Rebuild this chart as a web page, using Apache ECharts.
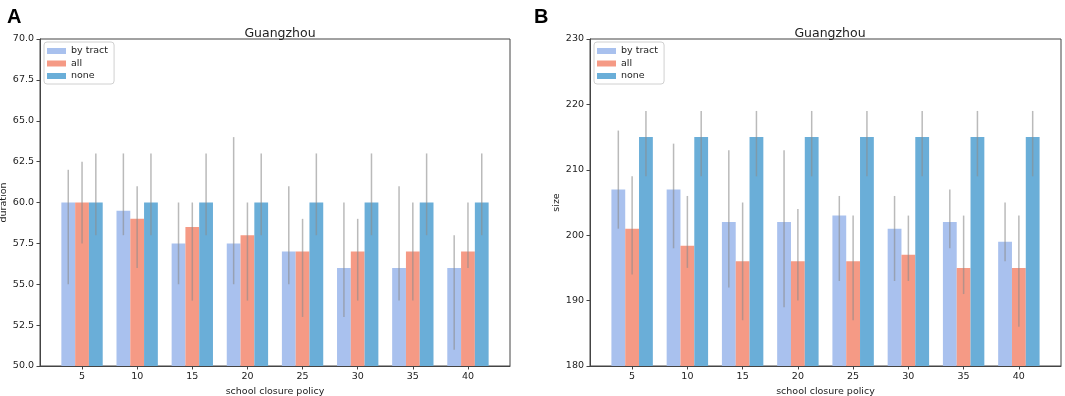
<!DOCTYPE html>
<html>
<head>
<meta charset="utf-8">
<title>Guangzhou</title>
<script src="https://cdn.jsdelivr.net/npm/echarts@6/dist/echarts.min.js"></script>
<style>
  html, body { margin: 0; padding: 0; background: #fff; }
  #chart { width: 1065px; height: 396px; }
</style>
</head>
<body>
<div id="chart"></div>
<script>
// school closure policy (x categories)
const categories = ['5', '10', '15', '20', '25', '30', '35', '40']
const seriesNames = ['by tract', 'all', 'none']
const colors = ['#a9c1ee', '#f59a85', '#6aaed8']

// panel A: duration
const durTicks = [50, 70, 2.5]
const durByTract = [60, 59.5, 57.5, 57.5, 57, 56, 56, 56]
const durAll = [60, 59, 58.5, 58, 57, 57, 57, 57]
const durNone = [60, 60, 60, 60, 60, 60, 60, 60]
const durByTractErr = [[55, 62], [58, 63], [55, 60], [55, 64], [55, 61], [53, 60], [54, 61], [51, 58]]
const durAllErr = [[57.5, 62.5], [56, 61], [54, 60], [54, 60], [53, 59], [54, 59], [54, 60], [56, 60]]
const durNoneErr = [[58, 63], [58, 63], [58, 63], [58, 63], [58, 63], [58, 63], [58, 63], [58, 63]]

// panel B: size
const sizeTicks = [180, 230, 10]
const sizeByTract = [207, 207, 202, 202, 203, 201, 202, 199]
const sizeAll = [201, 198.4, 196, 196, 196, 197, 195, 195]
const sizeNone = [215, 215, 215, 215, 215, 215, 215, 215]
const sizeByTractErr = [[201, 216], [198, 214], [192, 213], [189, 213], [193, 206], [193, 206], [198, 207], [196, 205]]
const sizeAllErr = [[194, 209], [195, 206], [187, 205], [190, 204], [187, 203], [193, 203], [191, 203], [186, 203]]
const sizeNoneErr = [[209, 219], [209, 219], [209, 219], [209, 219], [209, 219], [209, 219], [209, 219], [209, 219]]

const font = 'DejaVu Sans'
const axisColor = '#444'

function xAxisFor (gridIndex) {
    return {
        type: 'value',
        gridIndex: gridIndex,
        min: -0.7625,
        max: 7.7625,
        name: 'school closure policy',
        nameLocation: 'middle',
        nameGap: 19,
        nameTextStyle: { fontFamily: font, fontSize: 9.5, color: '#222' },
        axisLine: { onZero: false, lineStyle: { color: axisColor } },
        axisTick: { length: 3.5, customValues: categories.map((c, i) => i), lineStyle: { color: axisColor } },
        axisLabel: {
            customValues: categories.map((c, i) => i),
            formatter: v => categories[Math.round(v)],
            fontFamily: font,
            fontSize: 9.5,
            color: '#222',
            margin: 6
        },
        splitLine: { show: false }
    }
}

function yAxisFor (gridIndex, ticks, name, gap, digits) {
    return {
        type: 'value',
        gridIndex: gridIndex,
        min: ticks[0],
        max: ticks[1],
        interval: ticks[2],
        name: name,
        nameLocation: 'middle',
        nameGap: gap,
        nameTextStyle: { fontFamily: font, fontSize: 9.5, color: '#222' },
        axisLine: { show: true, onZero: false, lineStyle: { color: axisColor } },
        axisTick: { show: true, length: 3.5, lineStyle: { color: axisColor } },
        axisLabel: {
            formatter: v => v.toFixed(digits),
            fontFamily: font,
            fontSize: 9.5,
            color: '#222',
            margin: 6
        },
        splitLine: { show: false }
    }
}

function barSeries (gridIndex, values) {
    return values.map((vals, k) => ({
        type: 'bar',
        name: seriesNames[k],
        xAxisIndex: gridIndex,
        yAxisIndex: gridIndex,
        barWidth: '25%',
        barGap: '0%',
        itemStyle: { color: colors[k] },
        data: vals.map((v, i) => [i, v])
    }))
}

function errSeries (gridIndex, errs) {
    const data = []
    errs.forEach((list, k) => {
        list.forEach((e, i) => {
            data.push([i + (k - 1) * 0.25, e[0], e[1]])
        })
    })
    return {
        type: 'custom',
        xAxisIndex: gridIndex,
        yAxisIndex: gridIndex,
        z: 5,
        silent: true,
        encode: { x: 0, y: [1, 2] },
        renderItem: function (params, api) {
            const lo = api.coord([api.value(0), api.value(1)])
            const hi = api.coord([api.value(0), api.value(2)])
            return {
                type: 'line',
                shape: { x1: lo[0], y1: lo[1], x2: hi[0], y2: hi[1] },
                style: { stroke: '#8c8c8c', lineWidth: 1.5, opacity: 0.6 }
            }
        },
        data: data
    }
}

function legendFor (left) {
    return {
        data: seriesNames,
        orient: 'vertical',
        left: left,
        top: 42,
        icon: 'rect',
        itemWidth: 19,
        itemHeight: 6,
        itemGap: 2.5,
        padding: [4, 6, 3, 3],
        borderColor: '#d0d0d0',
        borderWidth: 1,
        borderRadius: 3,
        textStyle: { fontFamily: font, fontSize: 9.5, color: '#222' }
    }
}

const chart = echarts.init(document.getElementById('chart'))
chart.setOption({
    animation: false,
    backgroundColor: '#fff',
    title: [
        { text: 'A', left: 2, top: 2, textStyle: { fontFamily: 'Liberation Sans', fontSize: 20, fontWeight: 'bold', color: '#000' } },
        { text: 'B', left: 529, top: 2, textStyle: { fontFamily: 'Liberation Sans', fontSize: 20, fontWeight: 'bold', color: '#000' } },
        { text: 'Guangzhou', left: 275, top: 22, textAlign: 'center', textStyle: { fontFamily: font, fontSize: 12.5, fontWeight: 'normal', color: '#222' } },
        { text: 'Guangzhou', left: 825, top: 22, textAlign: 'center', textStyle: { fontFamily: font, fontSize: 12.5, fontWeight: 'normal', color: '#222' } }
    ],
    legend: [legendFor(44), legendFor(594)],
    grid: [
        { left: 40, right: 555, top: 39, bottom: 30, outerBoundsMode: 'none', show: true, borderColor: axisColor, borderWidth: 1 },
        { left: 590, right: 4, top: 39, bottom: 30, outerBoundsMode: 'none', show: true, borderColor: axisColor, borderWidth: 1 }
    ],
    xAxis: [xAxisFor(0), xAxisFor(1)],
    yAxis: [
        yAxisFor(0, durTicks, 'duration', 27, 1),
        yAxisFor(1, sizeTicks, 'size', 24, 0)
    ],
    series: [
        ...barSeries(0, [durByTract, durAll, durNone]),
        ...barSeries(1, [sizeByTract, sizeAll, sizeNone]),
        errSeries(0, [durByTractErr, durAllErr, durNoneErr]),
        errSeries(1, [sizeByTractErr, sizeAllErr, sizeNoneErr])
    ]
})
</script>
</body>
</html>
